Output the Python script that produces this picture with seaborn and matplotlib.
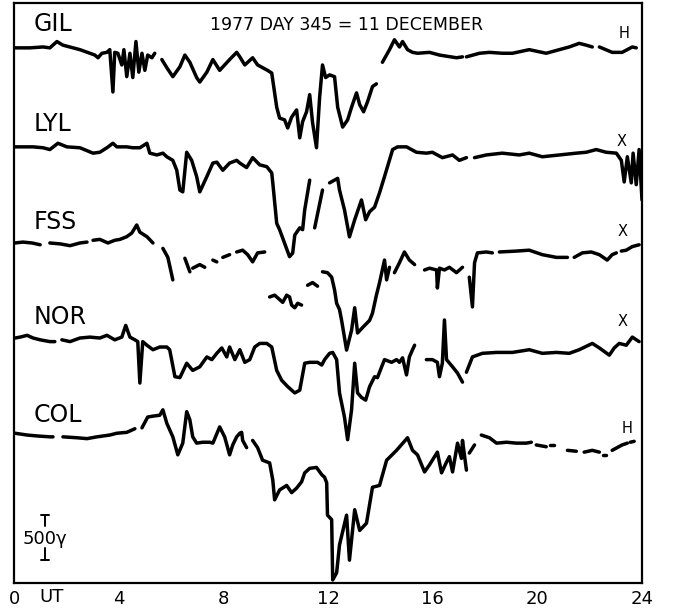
import numpy as np
import pandas as pd
import matplotlib
matplotlib.use("Agg")
import matplotlib.pyplot as plt
import seaborn as sns

nan = np.nan

# ---- data: UT hours and deviation (gamma) per station; nan = gap in record ----
stations = ["GIL", "LYL", "FSS", "NOR", "COL"]
components = ["H", "X", "X", "X", "H"]
baselines = [5956, 4856, 3778, 2722, 1644]   # vertical offsets of each trace (gamma)

GIL_t = [0.04, 0.61, 1.11, 1.37, 1.64, 1.87, 2.52, 2.90, 3.09, 3.21, 3.36, 3.55, 3.66, 3.78, 3.85, 3.97, 4.12, 4.20,
         4.31, 4.43, 4.54, 4.66, 4.77, 4.89, 5.00, 5.11, 5.27, 5.38, nan,
         5.65, 5.84, 6.07, 6.34, 6.53, 6.72, 6.98, 7.10, 7.37, 7.60, 7.86, 8.24, 8.51, 8.63, 8.82, 9.12, 9.31, 9.69,
         9.85, 10.04, 10.15, 10.34, 10.46, 10.61, 10.80, 10.92, 11.03, 11.18, 11.30, 11.41, 11.56, 11.68, 11.79, 11.91,
         12.06, 12.25, 12.37, 12.56, 12.75, 12.90, 13.09, 13.21, 13.36, 13.51, 13.70, 13.85, nan,
         14.08, 14.35, 14.54, 14.73, 14.85, 15.04, 15.23, 15.42, 15.88, 16.26, 16.91, 17.14, nan,
         17.29, 17.79, 18.17, 18.66, 19.05, 19.69, 20.34, 20.84, 21.22, 21.60, 21.87, 22.10, nan,
         22.37, 22.86, 23.24, 23.63, 23.78]
GIL_v = [-10, -10, 0, -10, 60, 20, -30, -70, -90, -120, -70, -60, -30, -500, -60, -70, -200, -30,
         -330, -70, -340, 60, -280, -70, -260, -90, -120, -70, nan,
         -140, -230, -330, -220, -90, -170, -340, -390, -280, -140, -260, -140, -60, -110, -200, -120, -200, -260,
         -290, -670, -790, -810, -900, -780, -700, -1010, -830, -720, -530, -840, -1120, -560, -200, -340,
         -310, -330, -670, -890, -810, -670, -510, -640, -720, -610, -440, -410, nan,
         -170, -30, 80, 0, 60, -30, -60, -70, -60, -90, -120, -110, nan,
         -110, -70, -60, -70, -70, -30, -70, -30, 0, 40, 20, 0, nan,
         0, -60, -60, 0, -10]

LYL_t = [0.04, 0.73, 1.11, 1.37, 1.68, 2.02, 2.52, 3.02, 3.28, 3.55, 3.78, 3.93, 4.31, 4.54, 4.81, 5.08, 5.19, 5.46,
         5.69, 5.84, 6.07, 6.22, 6.34, 6.45, 6.60, 6.79, 6.98, 7.10, 7.37, 7.60, 7.75, 7.98, 8.24, 8.51, 8.63, 8.89,
         9.12, 9.39, 9.66, 9.85, 9.89, 10.04, 10.15, 10.34, 10.53, 10.65, 10.73, 10.92, 11.03, 11.11, 11.30, nan,
         11.49, 11.79, nan,
         12.06, 12.37, 12.44, 12.63, 12.82, 13.02, 13.28, 13.44, 13.59, 13.78, 13.97, 14.16, 14.47, 14.66, 15.00,
         15.38, 15.76, 15.99, 16.37, 16.76, 17.02, 17.29, nan,
         17.60, 18.05, 18.66, 19.31, 19.69, 20.19, 20.84, 21.49, 21.87, 22.25, 22.63, 23.02, 23.21, 23.32, 23.44,
         23.59, 23.66, 23.78, 23.89, 24.0]
LYL_v = [-10, -10, -20, -40, 30, -10, -20, -80, -70, -20, 30, -10, -10, -20, -20, 30, -80, -100,
         -80, -120, -160, -270, -490, -510, -70, -160, -340, -510, -340, -190, -180, -270, -190, -160, -190, -240,
         -130, -210, -230, -300, -410, -860, -930, -1080, -1230, -1190, -990, -910, -930, -710, -380, nan,
         -910, -490, nan,
         -410, -360, -490, -710, -1010, -820, -600, -820, -730, -680, -520, -340, -40, -10, -10,
         -70, -80, -70, -130, -100, -160, -130, nan,
         -130, -100, -80, -100, -80, -120, -100, -80, -70, -40, -70, -80, -160, -400, -120,
         -410, -80, -430, -40, -600]

FSS_t = [0.04, 0.34, 0.69, 1.00, nan,
         1.37, 1.76, 2.14, 2.52, 2.79, nan,
         3.02, 3.28, 3.59, 3.85, 4.05, 4.31, 4.50, 4.69, 4.81, 5.08, 5.31, nan,
         5.69, 5.88, 6.07, nan,
         6.53, 6.72, nan,
         6.83, 7.10, 7.29, nan,
         7.60, 7.75, nan,
         7.98, 8.24, nan,
         8.51, 8.74, 8.93, 9.12, 9.31, 9.58, nan,
         9.77, 9.96, 10.08, 10.27, 10.42, 10.53, 10.61, 10.73, 10.84, 10.99, nan,
         11.22, 11.41, 11.60, nan,
         11.79, 11.98, 12.14, 12.25, 12.33, 12.44, 12.52, 12.71, 12.90, 13.02, 13.13, 13.32, 13.59, 13.70,
         13.85, 13.97, 14.16, 14.24, 14.35, nan,
         14.54, 14.73, 14.92, 15.11, 15.31, nan,
         15.69, 15.88, 16.15, 16.18, 16.26, 16.45, 16.64, 16.91, 17.14, nan,
         17.40, 17.52, 17.60, 17.71, 18.05, 18.28, nan,
         18.55, 19.20, 19.69, 20.19, 20.73, 21.15, nan,
         21.41, 21.72, 22.06, 22.37, 22.67, 22.86, 23.02, nan,
         23.21, 23.40, 23.63, 23.89]
FSS_v = [0, 10, 0, -20, nan,
         0, -10, -30, 0, 10, nan,
         30, 40, 0, 30, 40, 70, 110, 200, 120, 70, 0, nan,
         -60, -160, -410, nan,
         -170, -320, nan,
         -280, -240, -270, nan,
         -190, -210, nan,
         -160, -130, nan,
         -100, -80, -130, -210, -110, -100, nan,
         -600, -580, -610, -660, -580, -600, -690, -720, -670, -690, nan,
         -470, -440, -480, nan,
         -320, -330, -380, -520, -670, -740, -860, -1190, -970, -720, -1000, -940, -860, -780,
         -580, -440, -190, -410, -270, nan,
         -330, -220, -100, -190, -240, nan,
         -300, -280, -300, -500, -280, -300, -270, -330, -270, nan,
         -380, -710, -220, -110, -100, -110, nan,
         -100, -90, -80, -130, -160, -160, nan,
         -160, -110, -100, -130, -190, -130, -110, nan,
         -90, -80, -40, -20]

NOR_t = [0.04, 0.23, 0.50, 0.73, 1.00, 1.37, 1.56, nan,
         1.83, 2.14, 2.52, 2.90, 3.28, 3.55, 3.85, 4.12, 4.27, 4.43, 4.62, 4.73, 4.81, 4.92, 5.08, 5.31, 5.57,
         5.84, 5.95, 6.15, 6.34, 6.60, 6.83, 7.10, 7.37, 7.56, 7.75, 7.94, 8.13, 8.24, 8.44, 8.63, 8.82, 9.01,
         9.20, 9.39, 9.66, 9.85, 10.04, 10.23, 10.46, 10.73, 10.92, 11.11, 11.30, 11.60, 11.76, 11.87, 12.06,
         12.18, 12.33, 12.44, 12.63, 12.75, 12.90, 13.02, 13.13, 13.28, 13.44, 13.59, 13.78, 13.89, 14.05, 14.16,
         14.43, 14.62, 14.73, 14.85, 15.00, 15.11, 15.23, 15.31, nan,
         15.76, 15.99, 16.18, 16.26, 16.37, 16.45, 16.53, 16.76, 16.95, 17.14, nan,
         17.29, 17.52, 17.90, 18.44, 19.05, 19.69, 20.19, 20.73, 21.22, 21.60, 22.10, 22.37, 22.75, 22.94, 23.13,
         23.40, 23.63, 23.89]
NOR_v = [0, 10, 30, 0, -20, -40, -40, nan,
         -20, -40, 0, 10, 0, 30, -20, 10, 140, 10, -20, -40, -500, -40, -80, -130, -100,
         -100, -130, -430, -440, -280, -360, -320, -210, -240, -170, -110, -210, -100, -240, -130, -270, -240,
         -100, -60, -60, -100, -360, -470, -540, -610, -580, -280, -270, -270, -300, -240, -170,
         -160, -240, -610, -880, -1130, -800, -280, -610, -660, -690, -540, -430, -440, -320, -240,
         -270, -240, -270, -220, -410, -210, -130, -80, nan,
         -240, -240, -270, -430, -280, 200, -240, -320, -390, -490, nan,
         -380, -210, -170, -160, -160, -130, -170, -160, -170, -130, -60, -110, -190, -110, -60,
         -80, 10, -40]

COL_t = [0.04, 0.50, 0.88, 1.37, 1.49, nan,
         1.87, 2.40, 2.79, 3.17, 3.66, 3.93, 4.31, 4.62, nan,
         4.89, 5.11, 5.31, 5.57, 5.69, 5.84, 6.07, 6.26, 6.45, 6.60, 6.72, 6.83, 6.98, 7.21, 7.48, 7.60, 7.86,
         8.05, 8.24, 8.36, 8.51, 8.63, 8.70, 8.74, 8.89, nan,
         9.12, 9.31, 9.50, 9.77, 9.89, 9.96, 10.15, 10.42, 10.61, 10.80, 10.99, 11.11, 11.30, 11.56, 11.76, 11.87,
         11.95, 11.98, 12.14, 12.18, 12.33, 12.44, 12.71, 12.82, 13.02, 13.21, 13.47, 13.70, 13.97, 14.24, 14.62,
         15.04, 15.23, 15.42, 15.69, 15.88, 16.18, 16.34, 16.53, 16.64, 16.76, 16.95, 17.10, 17.14, 17.29, nan,
         17.40, 17.60, nan,
         17.86, 18.17, 18.44, 18.82, 19.20, 19.58, 19.77, nan,
         19.96, 20.34, nan,
         20.50, 20.65, nan,
         21.15, 21.49, nan,
         21.79, 22.10, 22.37, nan,
         22.52, 22.63, nan,
         22.86, 23.24, 23.44, nan,
         23.55, 23.70]
COL_v = [20, 0, -10, -20, -20, nan,
         -20, -30, -40, -20, 0, 20, 30, 70, nan,
         80, 200, 210, 220, 280, 130, -20, -220, -90, 260, 170, -20, -90, -80, -80, -90, 90,
         -20, -220, -110, -20, 20, 30, -60, -140, nan,
         -60, -140, -280, -310, -500, -720, -610, -560, -640, -590, -520, -420, -370, -360, -440, -470,
         -530, -890, -940, -1610, -1530, -1220, -890, -1390, -830, -1060, -980, -580, -560, -280, -170,
         -30, -170, -220, -410, -330, -190, -420, -300, -240, -410, -90, -260, -60, -390, nan,
         -200, -110, nan,
         0, -30, -90, -80, -90, -90, -80, nan,
         -110, -130, nan,
         -110, -110, nan,
         -170, -180, nan,
         -190, -170, -190, nan,
         -220, -220, nan,
         -170, -110, -90, nan,
         -80, -70]

series_t = [GIL_t, LYL_t, FSS_t, NOR_t, COL_t]
series_v = [GIL_v, LYL_v, FSS_v, NOR_v, COL_v]

x_ticks = [0, 4, 8, 12, 16, 20, 24]
title = "1977 DAY 345 = 11 DECEMBER"
scale_gamma = 500

# ---- build long table, one segment id per continuous stretch ----
rows = []
for name, base, ts, vs in zip(stations, baselines, series_t, series_v):
    seg = 0
    for t, v in zip(ts, vs):
        if np.isnan(t):
            seg += 1
            continue
        rows.append({"station": name, "seg": f"{name}-{seg}", "t": t, "y": base + v})
df = pd.DataFrame(rows)

sns.set_style("white")
plt.rcParams["font.family"] = ["DejaVu Sans"]
plt.rcParams["text.color"] = "black"
plt.rcParams["xtick.color"] = "black"
plt.rcParams["xtick.labelcolor"] = "black"

fig = plt.figure(figsize=(6.74, 6.12), dpi=100)
ax = fig.add_axes([14 / 674, 29 / 612, (642 - 14) / 674, (583 - 3) / 612])

sns.lineplot(data=df, x="t", y="y", units="seg", estimator=None, sort=False,
             color="black", linewidth=2.5, legend=False, ax=ax,
             solid_capstyle="round", solid_joinstyle="round")

ymax = 580 * 500 / 45
ax.set_xlim(0, 24)
ax.set_ylim(0, ymax)
ax.set_xlabel("")
ax.set_ylabel("")
ax.set_yticks([])
ax.set_xticks(x_ticks)
ax.set_xticklabels([str(v) for v in x_ticks], fontsize=13, color="black")
ax.tick_params(axis="x", direction="in", length=10, width=1.6, pad=5, colors="black")
for s in ax.spines.values():
    s.set_visible(True)
    s.set_color("black")
    s.set_linewidth(1.6)

# station labels and component letters
label_dy = [255, 244, 233, 233, 223]
comp_pos = [(23.32, 144), (23.21, 44), (23.24, 133), (23.24, 189), (23.44, 78)]
for name, base, dy, comp, (cx, cdy) in zip(stations, baselines, label_dy, components, comp_pos):
    ax.text(0.74, base + dy, name, fontsize=17, ha="left", va="center", color="black")
    ax.text(cx, base + cdy, comp, fontsize=10.5, ha="center", va="center", color="black")

ax.text(12.7, 6200, title, fontsize=12.5, ha="center", va="center", color="black")
ax.text(1.45, -14 * 500 / 45, "UT", fontsize=13, ha="center", va="center", clip_on=False, color="black")

# scale bar (500 gamma)
xc, yc = 1.18, 511
half = scale_gamma / 2
ax.plot([xc - 0.15, xc + 0.15], [yc + half, yc + half], color="black", lw=1.4)
ax.plot([xc, xc], [yc + half, yc + half - 130], color="black", lw=1.4)
ax.plot([xc - 0.15, xc + 0.15], [yc - half, yc - half], color="black", lw=1.4)
ax.plot([xc, xc], [yc - half, yc - half + 130], color="black", lw=1.4)
ax.text(xc, yc - 20, f"{scale_gamma}\u03b3", fontsize=13, ha="center", va="center", color="black")

fig.savefig("out.png", dpi=100, facecolor="white")
